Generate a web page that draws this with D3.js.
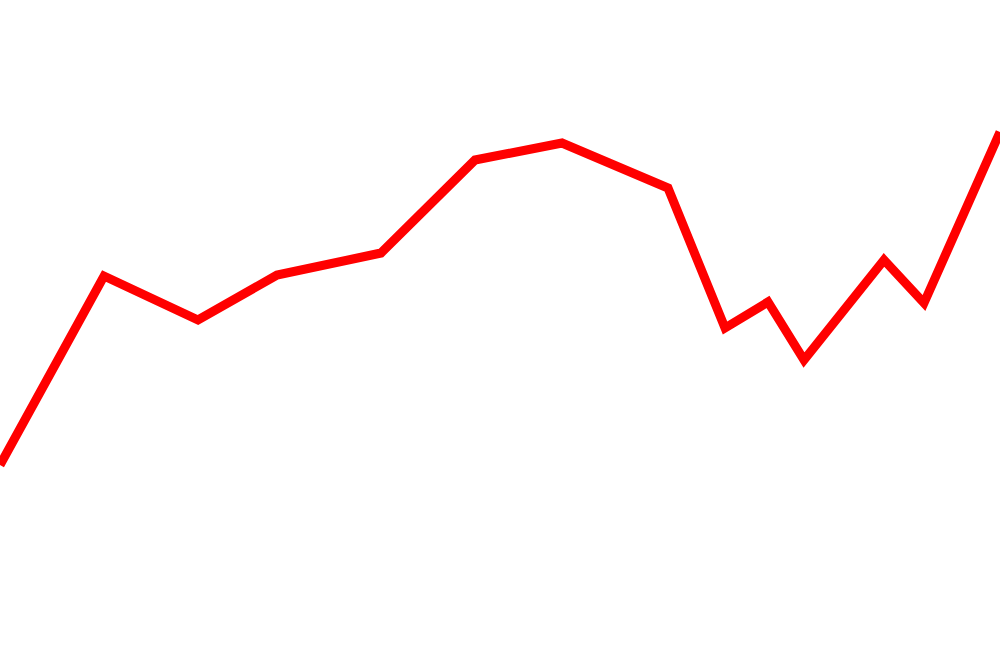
<!DOCTYPE html>
<html><head><meta charset="utf-8">
<script src="https://cdn.jsdelivr.net/npm/d3@7"></script>
<style>html,body{margin:0;padding:0;background:#fff;overflow:hidden}</style>
</head><body>
<svg id="chart" width="1000" height="667"></svg>
<script>
// Data (x position along the period, value)
const periods = [0, 104, 198, 277, 381, 475, 562, 668, 725, 768, 804, 884, 924, 1000];
const values  = [202, 391, 347, 392, 414, 507, 524, 479, 339, 365, 307, 407, 364, 535];

const W = 1000, H = 667;
const x = d3.scaleLinear().domain([0, 1000]).range([0, W]);
const y = d3.scaleLinear().domain([0, 667]).range([H, 0]);

const data = periods.map((p, i) => ({p, v: values[i]}));
const svg = d3.select("#chart");
svg.append("rect").attr("width", W).attr("height", H).attr("fill", "#fff");
svg.append("path")
  .datum(data)
  .attr("fill", "none")
  .attr("stroke", "#ff0000")
  .attr("stroke-width", 9)
  .attr("stroke-linejoin", "miter")
  .attr("d", d3.line().x(d => x(d.p)).y(d => y(d.v)));
</script>
</body></html>
